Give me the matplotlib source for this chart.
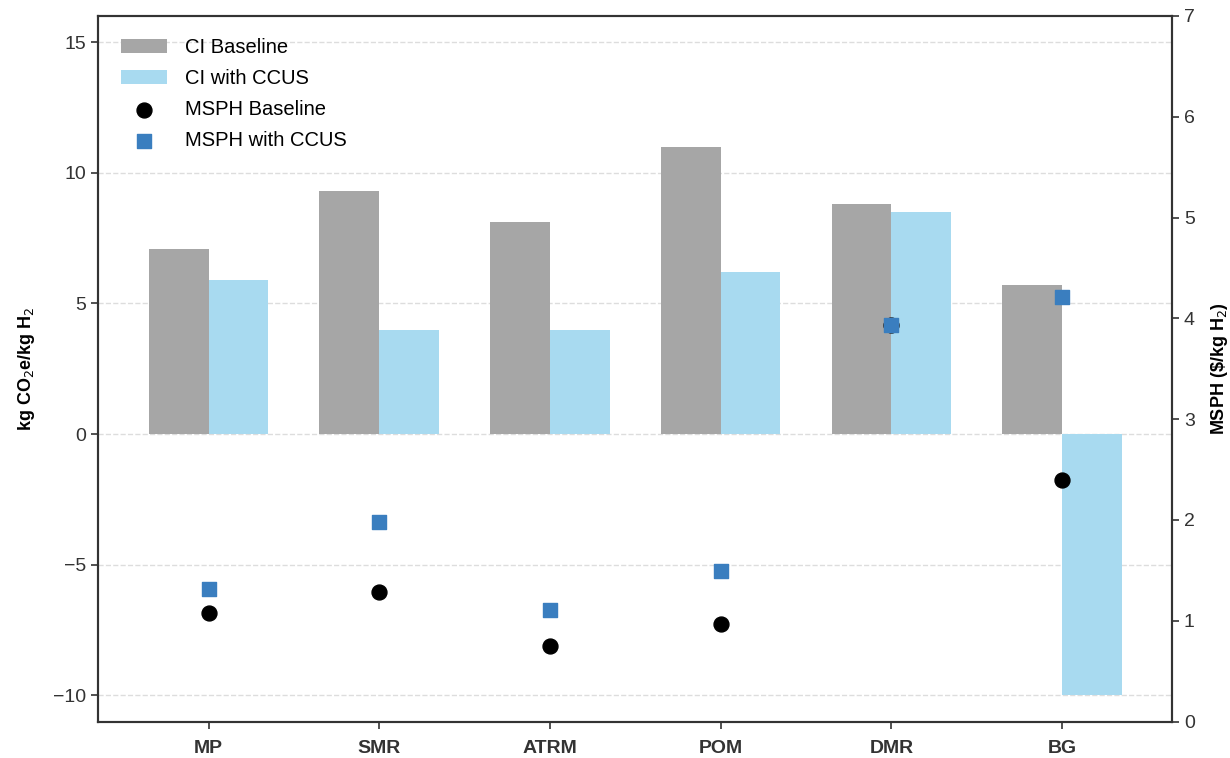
import numpy as np
import matplotlib.pyplot as plt

plt.rcParams['font.family'] = ['Liberation Sans', 'DejaVu Sans']

processes = ['MP', 'SMR', 'ATRM', 'POM', 'DMR', 'BG']
ci_baseline = [7.1, 9.3, 8.1, 11.0, 8.8, 5.7]
ci_ccus = [5.9, 4.0, 4.0, 6.2, 8.5, -10.0]
msph_baseline = [1.08, 1.29, 0.75, 0.97, 3.93, 2.40]
msph_ccus = [1.32, 1.98, 1.11, 1.49, 3.93, 4.21]

x = np.arange(len(processes))
w = 0.35

fig, ax = plt.subplots(figsize=(12.3, 7.58), dpi=100)
fig.subplots_adjust(left=0.08, right=0.953, top=0.979, bottom=0.048)

ax.bar(x - w / 2, ci_baseline, w, color='#a6a6a6', label='CI Baseline', zorder=2)
ax.bar(x + w / 2, ci_ccus, w, color='#a8daf0', label='CI with CCUS', zorder=2)
ax.set_ylim(-11, 16)
ax.set_xlim(-0.645, 5.645)
ax.set_yticks([-10, -5, 0, 5, 10, 15])
ax.set_xticks(x)
ax.set_xticklabels(processes, fontweight='bold')
ax.yaxis.grid(True, linestyle='--', color='#dddddd', linewidth=1, zorder=0)
ax.set_axisbelow(True)
ax.set_ylabel('kg CO$_2$e/kg H$_2$', fontsize=13, fontweight='bold', labelpad=12)

ax2 = ax.twinx()
ax2.scatter(x, msph_baseline, s=115, color='black', marker='o', label='MSPH Baseline', zorder=3)
ax2.scatter(x, msph_ccus, s=105, color='#3a7ebf', marker='s', label='MSPH with CCUS', zorder=4)
ax2.set_ylim(0, 7)
ax2.set_ylabel('MSPH (\\$/kg H$_2$)', fontsize=13, fontweight='bold', labelpad=10)

for a in (ax, ax2):
    a.tick_params(labelsize=14, colors='#333333', length=5, width=1.2)
    for s in a.spines.values():
        s.set_linewidth(1.5)
        s.set_color('#333333')
ax.tick_params(axis='x', labelsize=14, pad=8)

h1, l1 = ax.get_legend_handles_labels()
h2, l2 = ax2.get_legend_handles_labels()
ax.legend(h1 + h2, l1 + l2, loc='upper left', frameon=False, fontsize=14.5,
          handlelength=2.3, handletextpad=0.9, labelspacing=0.6,
          borderaxespad=0.7)

fig.savefig('out.png')
